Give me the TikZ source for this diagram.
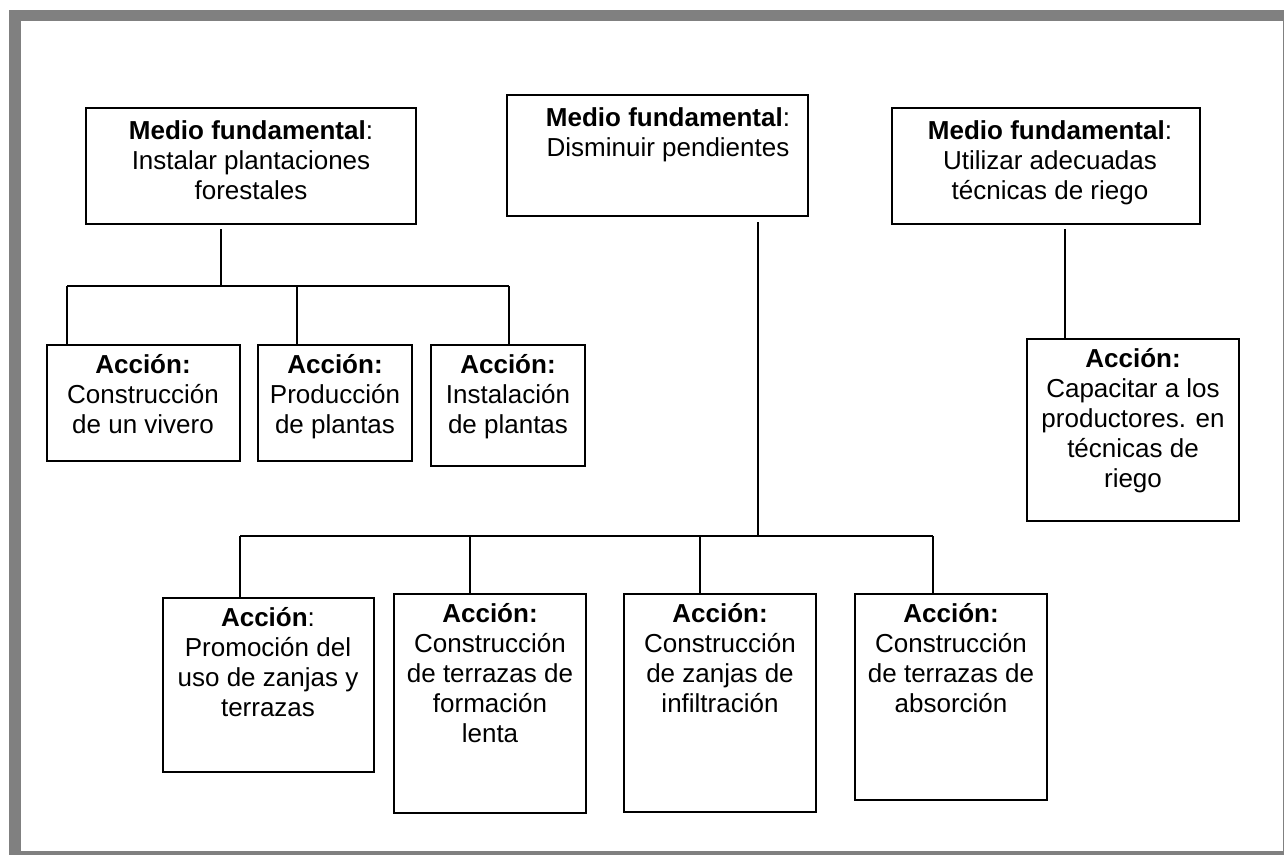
\documentclass[tikz,border=0pt]{standalone}
\usepackage{fontspec}
\setmainfont{Liberation Sans}
\begin{document}
\begin{tikzpicture}[x=1pt,y=-1pt,
  box/.style={draw=black,line width=1.6pt,fill=white},
  mainbox/.style={draw=black,line width=2.6pt,fill=white},
  lbl/.style={anchor=north,align=center,inner sep=0pt,font=\fontsize{26}{30}\selectfont},
  link/.style={draw=black,line width=1.5pt}]
% page frame
\useasboundingbox (0,0) rectangle (1284,855);
\fill[black!50] (9,10) rectangle (1284,855);
\fill[white] (21,21) rectangle (1283,851);

% fundamental means
\path[box] (86,108) rectangle (416,224) coordinate[pos=0.5] (A) ;
\path[mainbox] (507,95) rectangle (808,216) coordinate[pos=0.5] (B);
\path[box] (892,108) rectangle (1200,224) coordinate[pos=0.5] (C);
\node[lbl] (tA) at (251,120) {\textbf{Medio fundamental}:\\Instalar plantaciones\\forestales};
\node[lbl] (tB) at (668,107) {\textbf{Medio fundamental}:\\Disminuir pendientes};
\node[lbl] (tC) at (1050,120) {\textbf{Medio fundamental}:\\Utilizar adecuadas\\técnicas de riego};

% actions, first group
\path[box] (47,345) rectangle (240,461) coordinate[pos=0.5] (a1);
\path[box] (258,345) rectangle (412,461) coordinate[pos=0.5] (a2);
\path[box] (431,345) rectangle (585,466) coordinate[pos=0.5] (a3);
\node[lbl] (ta1) at (143,354) {\textbf{Acción:}\\Construcción\\de un vivero};
\node[lbl] (ta2) at (335,354) {\textbf{Acción:}\\Producción\\de plantas};
\node[lbl] (ta3) at (508,354) {\textbf{Acción:}\\Instalación\\de plantas};

% action under irrigation
\path[box] (1027,339) rectangle (1239,521) coordinate[pos=0.5] (D);
\node[lbl] (tD) at (1133,348) {\textbf{Acción:}\\Capacitar a los\\productores. en\\técnicas de\\riego};

% actions, second group
\path[box] (163,598) rectangle (374,772) coordinate[pos=0.5] (b1);
\path[box] (394,594) rectangle (586,813) coordinate[pos=0.5] (b2);
\path[box] (624,594) rectangle (816,812) coordinate[pos=0.5] (b3);
\path[box] (855,594) rectangle (1047,800) coordinate[pos=0.5] (b4);
\node[lbl] (tb1) at (268,607) {\textbf{Acción}:\\Promoción del\\uso de zanjas y\\terrazas};
\node[lbl] (tb2) at (490,603) {\textbf{Acción:}\\Construcción\\de terrazas de\\formación\\lenta};
\node[lbl] (tb3) at (720,603) {\textbf{Acción:}\\Construcción\\de zanjas de\\infiltración};
\node[lbl] (tb4) at (951,603) {\textbf{Acción:}\\Construcción\\de terrazas de\\absorción};

% junction points of the connectors
\coordinate (jA) at (221,286);
\coordinate (j1) at (67,286);
\coordinate (j2) at (297,286);
\coordinate (j3) at (509,286);
\coordinate (jB) at (758,536);
\coordinate (k1) at (240,536);
\coordinate (k2) at (470,536);
\coordinate (k3) at (700,536);
\coordinate (k4) at (933,536);
\coordinate (jC) at (1065,229);

% tree for the first means
\draw[link] (jA) -- ++(0,-57);
\draw[link] (j1) -- (j3);
\draw[link] (j1) -- ++(0,59);
\draw[link] (j2) -- ++(0,59);
\draw[link] (j3) -- ++(0,59);

% tree for the second means
\draw[link] (jB) -- ++(0,-314);
\draw[link] (k1) -- (k4);
\draw[link] (k1) -- ++(0,62);
\draw[link] (k2) -- ++(0,58);
\draw[link] (k3) -- ++(0,58);
\draw[link] (k4) -- ++(0,58);

% third means
\draw[link] (jC) -- ++(0,110);
\end{tikzpicture}
\end{document}
